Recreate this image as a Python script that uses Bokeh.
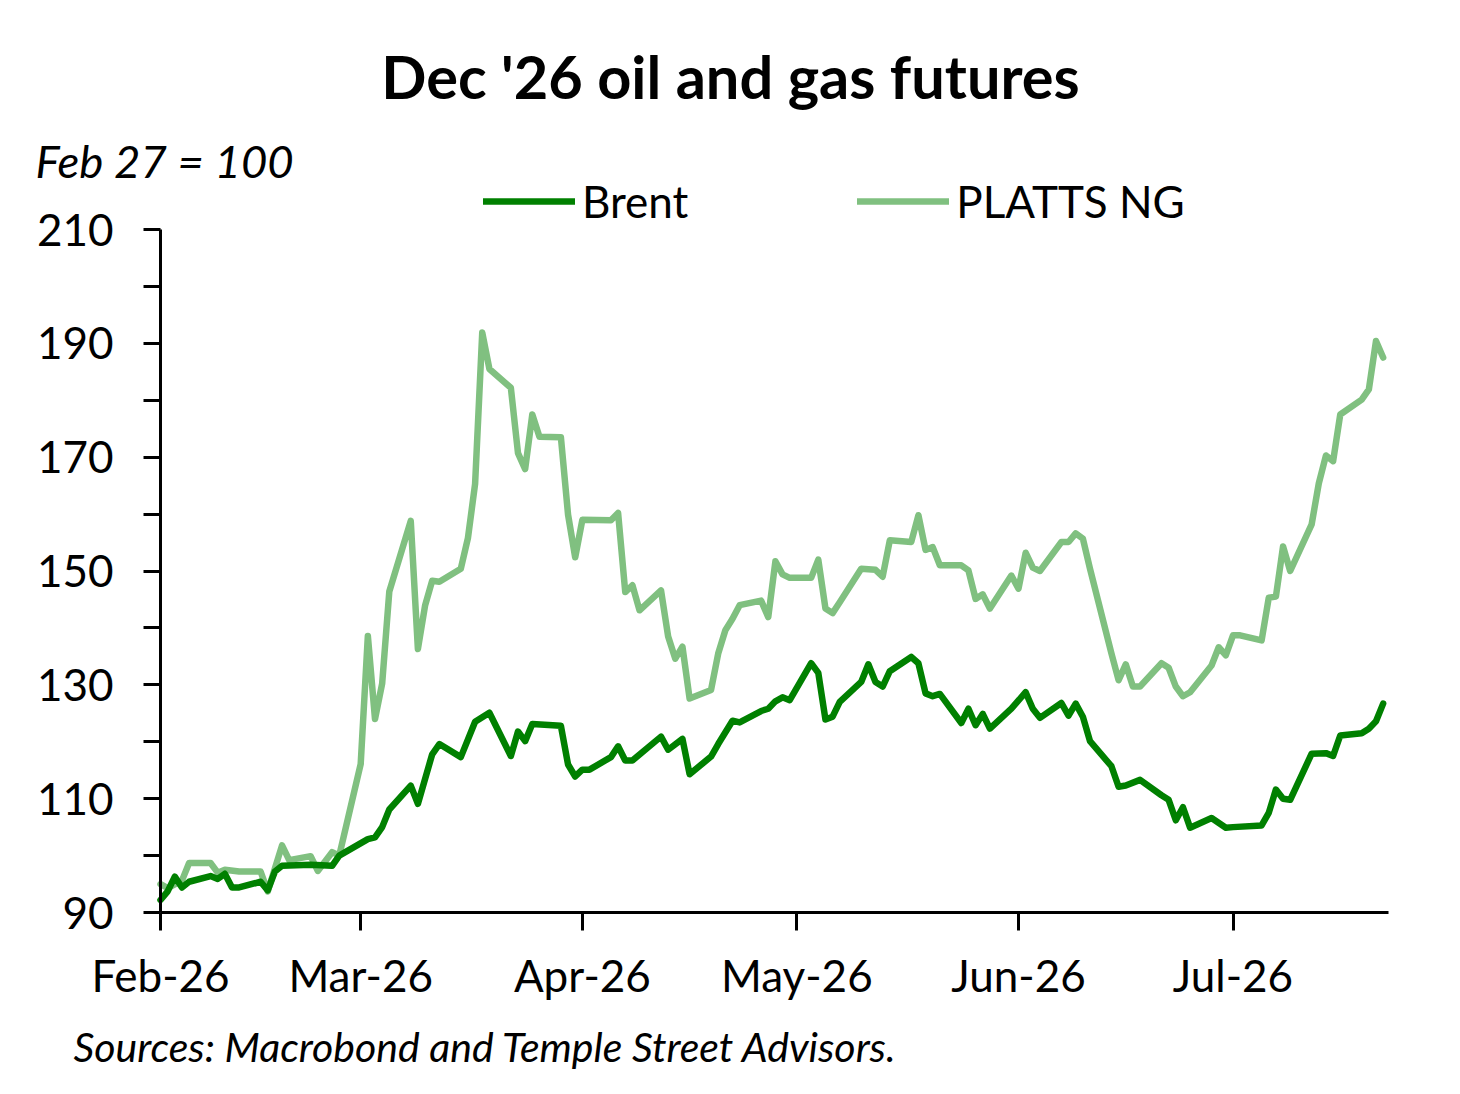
import pandas as pd
from bokeh.plotting import figure
from bokeh.models import (ColumnDataSource, FixedTicker, DatetimeTickFormatter, Label,
                          Legend, LegendItem, Range1d)
from bokeh.embed import file_html
from bokeh.resources import INLINE

# ---------------- data (index, Feb 27 = 100) ----------------
brent_dates = [
    "2026-02-02", "2026-02-03", "2026-02-04", "2026-02-05", "2026-02-06",
    "2026-02-09", "2026-02-10", "2026-02-11", "2026-02-12", "2026-02-13",
    "2026-02-16", "2026-02-17", "2026-02-18", "2026-02-19", "2026-02-23",
    "2026-02-26", "2026-02-27", "2026-03-03", "2026-03-04", "2026-03-05",
    "2026-03-06", "2026-03-09", "2026-03-10", "2026-03-12", "2026-03-13",
    "2026-03-16", "2026-03-18", "2026-03-20", "2026-03-23", "2026-03-24",
    "2026-03-25", "2026-03-26", "2026-03-30", "2026-03-31", "2026-04-01",
    "2026-04-02", "2026-04-03", "2026-04-06", "2026-04-07", "2026-04-08",
    "2026-04-09", "2026-04-13", "2026-04-14", "2026-04-16", "2026-04-17",
    "2026-04-20", "2026-04-21", "2026-04-23", "2026-04-24", "2026-04-27",
    "2026-04-28", "2026-04-29", "2026-04-30", "2026-05-01", "2026-05-04",
    "2026-05-05", "2026-05-06", "2026-05-07", "2026-05-08", "2026-05-11",
    "2026-05-12", "2026-05-13", "2026-05-14", "2026-05-15", "2026-05-18",
    "2026-05-19", "2026-05-20", "2026-05-21", "2026-05-22", "2026-05-25",
    "2026-05-26", "2026-05-27", "2026-05-28", "2026-05-29", "2026-06-01",
    "2026-06-03", "2026-06-04", "2026-06-05", "2026-06-08", "2026-06-09",
    "2026-06-10", "2026-06-11", "2026-06-12", "2026-06-15", "2026-06-16",
    "2026-06-17", "2026-06-19", "2026-06-22", "2026-06-23", "2026-06-24",
    "2026-06-25", "2026-06-26", "2026-06-29", "2026-07-01", "2026-07-02",
    "2026-07-06", "2026-07-07", "2026-07-08", "2026-07-09", "2026-07-10",
    "2026-07-13", "2026-07-15", "2026-07-16", "2026-07-17", "2026-07-20",
    "2026-07-21", "2026-07-22", "2026-07-23",
]
brent_values = [
    92.2, 93.7, 96.3, 94.4, 95.4,
    96.4, 95.9, 96.8, 94.4, 94.4,
    95.4, 93.9, 97.2, 98.2, 98.4,
    98.2, 100.0, 102.9, 103.2, 105.0,
    108.1, 112.3, 109.1, 117.8, 119.6,
    117.3, 123.5, 125.1, 117.5, 121.8,
    120.1, 123.1, 122.8, 116.0, 113.9,
    115.1, 115.1, 117.3, 119.2, 116.7,
    116.7, 120.9, 118.6, 120.5, 114.3,
    117.4, 119.6, 123.7, 123.4, 125.4,
    125.8, 127.1, 127.8, 127.3, 133.8,
    132.1, 123.9, 124.4, 127.0, 130.5,
    133.6, 130.5, 129.7, 132.4, 134.9,
    133.8, 128.5, 128.0, 128.4, 123.3,
    125.8, 122.9, 124.9, 122.3, 125.8,
    128.7, 125.8, 124.2, 126.8, 124.6,
    126.7, 124.4, 120.1, 115.7, 112.1,
    112.3, 113.3, 110.6, 109.8, 106.2,
    108.5, 104.9, 106.6, 104.9, 105.0,
    105.3, 107.5, 111.6, 110.0, 109.8,
    117.9, 118.0, 117.5, 121.1, 121.5,
    122.3, 123.6, 126.7,
]

ng_dates = [
    "2026-02-02", "2026-02-03", "2026-02-05", "2026-02-06", "2026-02-09",
    "2026-02-10", "2026-02-11", "2026-02-13", "2026-02-16", "2026-02-17",
    "2026-02-19", "2026-02-20", "2026-02-23", "2026-02-24", "2026-02-26",
    "2026-02-27", "2026-03-02", "2026-03-03", "2026-03-04", "2026-03-05",
    "2026-03-06", "2026-03-09", "2026-03-10", "2026-03-11", "2026-03-12",
    "2026-03-13", "2026-03-16", "2026-03-17", "2026-03-18", "2026-03-19",
    "2026-03-20", "2026-03-23", "2026-03-24", "2026-03-25", "2026-03-26",
    "2026-03-27", "2026-03-30", "2026-03-31", "2026-04-01", "2026-04-02",
    "2026-04-06", "2026-04-07", "2026-04-08", "2026-04-09", "2026-04-10",
    "2026-04-13", "2026-04-14", "2026-04-15", "2026-04-16", "2026-04-17",
    "2026-04-20", "2026-04-21", "2026-04-22", "2026-04-23", "2026-04-24",
    "2026-04-27", "2026-04-28", "2026-04-29", "2026-04-30", "2026-05-01",
    "2026-05-04", "2026-05-05", "2026-05-06", "2026-05-07", "2026-05-08",
    "2026-05-11", "2026-05-13", "2026-05-14", "2026-05-15", "2026-05-18",
    "2026-05-19", "2026-05-20", "2026-05-21", "2026-05-22", "2026-05-25",
    "2026-05-26", "2026-05-27", "2026-05-28", "2026-05-29", "2026-06-01",
    "2026-06-02", "2026-06-03", "2026-06-04", "2026-06-05", "2026-06-08",
    "2026-06-09", "2026-06-10", "2026-06-11", "2026-06-12", "2026-06-15",
    "2026-06-16", "2026-06-17", "2026-06-18", "2026-06-19", "2026-06-22",
    "2026-06-23", "2026-06-24", "2026-06-25", "2026-06-26", "2026-06-29",
    "2026-06-30", "2026-07-01", "2026-07-02", "2026-07-03", "2026-07-06",
    "2026-07-07", "2026-07-08", "2026-07-09", "2026-07-10", "2026-07-13",
    "2026-07-14", "2026-07-15", "2026-07-16", "2026-07-17", "2026-07-20",
    "2026-07-21", "2026-07-22", "2026-07-23",
]
ng_values = [
    95.0, 94.3, 95.6, 98.7, 98.7,
    97.0, 97.5, 97.2, 97.2, 93.7,
    101.8, 99.2, 99.9, 97.3, 100.6,
    100.0, 116.1, 138.6, 124.0, 130.2,
    146.4, 158.8, 136.3, 143.9, 148.3,
    148.1, 150.4, 155.8, 165.3, 191.9,
    185.5, 182.2, 170.7, 167.9, 177.5,
    173.6, 173.5, 159.9, 152.4, 159.0,
    158.9, 160.2, 146.3, 147.5, 143.1,
    146.6, 138.5, 134.6, 136.7, 127.6,
    129.1, 135.5, 139.6, 141.6, 144.0,
    144.8, 141.9, 151.7, 149.4, 148.8,
    148.8, 152.0, 143.4, 142.6, 144.5,
    150.4, 150.2, 149.0, 155.4, 155.1,
    159.8, 153.7, 154.2, 151.0, 151.0,
    150.1, 145.1, 145.9, 143.4, 149.2,
    146.9, 153.2, 150.6, 150.0, 155.1,
    155.1, 156.6, 155.7, 150.4, 135.5,
    130.8, 133.6, 129.7, 129.7, 133.8,
    133.0, 129.7, 128.0, 128.7, 133.4,
    136.6, 135.2, 138.7, 138.7, 137.8,
    145.3, 145.5, 154.3, 150.0, 158.2,
    165.4, 170.3, 169.3, 177.5, 180.1,
    181.9, 190.4, 187.5,
]

series_names = ["Brent", "PLATTS NG"]
series_colors = ["#008000", "#80C080"]

y_min, y_max = 90, 210
y_tick_values = [90, 110, 130, 150, 170, 190, 210]
y_minor_values = [100, 120, 140, 160, 180, 200]
month_tick_dates = ["2026-02-02", "2026-03-02", "2026-04-02",
                    "2026-05-02", "2026-06-02", "2026-07-02"]

title_text = "Dec '26 oil and gas futures"
subtitle_text = "Feb 27 = 100"
source_text = "Sources: Macrobond and Temple Street Advisors."

# ---------------- layout geometry (pixels) ----------------
FONT = "Lato"
W, H = 1444, 1078
PLOT_L, PLOT_R, PLOT_T, PLOT_B = 160, 1388, 229, 912   # data rectangle
PX_PER_DAY = 7.15

# The frame fills the whole canvas; the ranges are widened so that the
# data rectangle sits at PLOT_L..PLOT_R / PLOT_T..PLOT_B, and the axes are
# pinned to the data rectangle's edges (fixed_location), so that texts
# placed outside the data rectangle are not clipped.
x0 = pd.Timestamp(brent_dates[0])
day = pd.Timedelta(days=1)
x_start = x0 - day * (PLOT_L / PX_PER_DAY)
x_end = x0 + day * ((W - PLOT_L) / PX_PER_DAY)
x_axis_end = x0 + day * ((PLOT_R - PLOT_L) / PX_PER_DAY)
px_per_unit = (PLOT_B - PLOT_T) / (y_max - y_min)
y_start = y_min - (H - PLOT_B) / px_per_unit
y_end = y_max + PLOT_T / px_per_unit


def ms(ts):
    return ts.value / 1e6


brent_src = ColumnDataSource(dict(date=pd.to_datetime(brent_dates), value=brent_values))
ng_src = ColumnDataSource(dict(date=pd.to_datetime(ng_dates), value=ng_values))

p = figure(width=W, height=H, x_axis_type="datetime",
           x_range=Range1d(x_start, x_end), y_range=Range1d(y_start, y_end),
           output_backend="svg", toolbar_location=None,
           min_border=0, min_border_left=0, min_border_right=0,
           min_border_top=0, min_border_bottom=0)
p.outline_line_color = None
p.grid.visible = False
p.background_fill_color = "white"
p.border_fill_color = "white"

r_ng = p.line(x="date", y="value", source=ng_src, line_color=series_colors[1],
              line_width=6.5, line_join="round", line_cap="round")
r_brent = p.line(x="date", y="value", source=brent_src, line_color=series_colors[0],
                 line_width=6.5, line_join="round", line_cap="round")

# x axis pinned at y = 90
xa = p.xaxis[0]
xa.fixed_location = y_min
xa.bounds = (ms(x0), ms(x_axis_end))
xa.ticker = FixedTicker(ticks=[ms(t) for t in pd.to_datetime(month_tick_dates)])
fmt = "%b-%y"
xa.formatter = DatetimeTickFormatter(days=fmt, months=fmt, years=fmt, hours=fmt,
                                     minutes=fmt, seconds=fmt, milliseconds=fmt,
                                     microseconds=fmt, hourmin=fmt, minsec=fmt)
xa.major_tick_out = 18
xa.minor_tick_line_color = None
xa.major_label_standoff = 18

# y axis pinned at the first date
ya = p.yaxis[0]
ya.fixed_location = ms(x0)
ya.bounds = (y_min, y_max)
ya.ticker = FixedTicker(ticks=y_tick_values, minor_ticks=y_minor_values)
ya.major_tick_out = 17
ya.minor_tick_out = 17
ya.minor_tick_in = 0
ya.minor_tick_line_width = 3
ya.minor_tick_line_color = "black"
ya.major_label_standoff = 30

for ax in (xa, ya):
    ax.axis_line_width = 3
    ax.axis_line_color = "black"
    ax.major_tick_line_width = 3
    ax.major_tick_line_color = "black"
    ax.major_tick_in = 0
    ax.major_label_text_font = FONT
    ax.major_label_text_font_size = "44px"
    ax.major_label_text_color = "black"

legend = Legend(items=[LegendItem(label=series_names[0], renderers=[r_brent]),
                       LegendItem(label=series_names[1], renderers=[r_ng])],
                location=(483, H - 227), orientation="horizontal",
                glyph_width=92, glyph_height=20, label_standoff=7, spacing=169,
                padding=0, margin=0, border_line_alpha=0, background_fill_alpha=0,
                label_text_font=FONT, label_text_font_size="44px",
                label_text_color="black")
p.add_layout(legend)

# label y positions: baseline (from the top) plus a correction for how the
# text box is anchored
p.add_layout(Label(x=730, y=H - 96 + 21, x_units="screen", y_units="screen",
                   text=title_text, text_font=FONT, text_font_style="bold",
                   text_font_size="59.5px", text_align="center",
                   text_baseline="alphabetic", text_color="black"))
p.add_layout(Label(x=35, y=H - 178 + 18, x_units="screen", y_units="screen",
                   text=subtitle_text, text_font=FONT, text_font_style="italic",
                   text_font_size="45.5px", text_align="left",
                   text_baseline="alphabetic", text_color="black"))
p.add_layout(Label(x=73, y=H - 1062 + 16, x_units="screen", y_units="screen",
                   text=source_text, text_font=FONT, text_font_style="italic",
                   text_font_size="41px", text_align="left",
                   text_baseline="alphabetic", text_color="black"))

open("out.html", "w").write(file_html(p, INLINE, title=title_text))
